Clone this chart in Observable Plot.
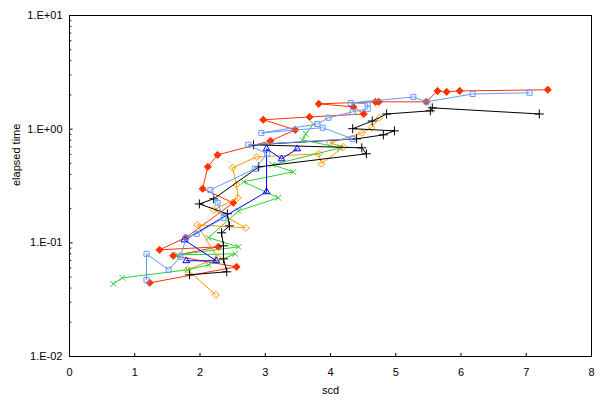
<!DOCTYPE html>
<html>
<head>
<meta charset="utf-8">
<script src="https://cdn.jsdelivr.net/npm/d3@7"></script>
<script src="https://cdn.jsdelivr.net/npm/@observablehq/plot@0.6"></script>
<style>
  html, body { margin: 0; padding: 0; background: #fff; }
  #chart { width: 603px; height: 409px; }
</style>
</head>
<body>
<div id="chart"></div>
<script>
// ---- data ----
const redX = [1.23, 2.56, 1.59, 2.28, 1.38, 1.78, 2.51, 2.04, 2.12, 2.27, 3.08, 3.46, 2.97, 3.68, 4.51, 4.35, 3.82, 4.69, 4.74, 5.47, 5.64, 5.78, 5.98, 7.33];
const redY = [0.0445, 0.0615, 0.0769, 0.0922, 0.0868, 0.111, 0.225, 0.299, 0.466, 0.594, 0.789, 0.986, 1.21, 1.28, 1.36, 1.57, 1.67, 1.74, 1.74, 1.74, 2.17, 2.13, 2.17, 2.22];

const sqX = [1.18, 1.18, 1.52, 1.70, 1.79, 1.95, 2.36, 2.27, 2.16, 2.84, 3.03, 2.74, 4.34, 3.88, 2.94, 3.80, 3.97, 4.34, 4.57, 4.57, 4.31, 5.27, 5.47, 6.18, 7.05];
const sqY = [0.0473, 0.080, 0.0579, 0.0753, 0.111, 0.120, 0.166, 0.225, 0.292, 0.448, 0.607, 0.728, 0.822, 1.03, 0.927, 1.11, 1.26, 1.42, 1.51, 1.67, 1.70, 1.92, 1.74, 2.04, 2.09];

const plusX = [1.84, 2.41, 2.36, 2.36, 2.33, 2.45, 2.42, 1.99, 2.21, 2.90, 4.55, 4.48, 2.82, 4.40, 4.81, 4.98, 4.34, 4.64, 4.86, 5.53, 5.56, 7.20];
const plusY = [0.0523, 0.0556, 0.0723, 0.0941, 0.1225, 0.141, 0.180, 0.220, 0.244, 0.466, 0.607, 0.685, 0.728, 0.822, 0.891, 0.966, 1.01, 1.18, 1.36, 1.45, 1.54, 1.36];

const triX = [1.79, 2.25, 1.76, 3.02, 3.02, 3.25, 3.49];
const triY = [0.0695, 0.0695, 0.106, 0.281, 0.671, 0.548, 0.671];

const timesX = [0.67, 0.81, 1.81, 2.13, 2.54, 1.66, 2.59, 2.13, 2.59, 3.20, 2.67, 3.43, 3.11, 4.15, 3.57, 3.62, 3.74];
const timesY = [0.0436, 0.0492, 0.0579, 0.064, 0.080, 0.0784, 0.0922, 0.111, 0.191, 0.249, 0.344, 0.421, 0.486, 0.685, 0.805, 0.909, 1.11];

const dmdX = [2.24, 1.81, 2.27, 1.96, 2.70, 2.21, 2.58, 2.56, 2.50, 2.87, 3.82, 3.86, 4.20, 3.99, 4.48, 4.63, 4.75];
const dmdY = [0.0349, 0.0579, 0.0738, 0.144, 0.1355, 0.195, 0.249, 0.324, 0.457, 0.570, 0.607, 0.496, 0.699, 0.758, 0.927, 1.03, 1.26];

const xTicks = [0, 1, 2, 3, 4, 5, 6, 7, 8];
const yTicks = [0.01, 0.1, 1, 10];
const yMinor = [0.01, 0.1, 1].flatMap(d => [2, 3, 4, 5, 6, 7, 8, 9].map(m => d * m));

const xLabel = "scd";
const yLabel = "elapsed time";

// ---- helpers ----
const rows = (xs, ys) => xs.map((x, i) => ({x, y: ys[i]}));
const fmtY = d => {
  const e = Math.round(Math.log10(d));
  return "1.E" + (e < 0 ? "-" : "+") + String(Math.abs(e)).padStart(2, "0");
};

function series(xs, ys, color, symbol, r, filled) {
  const data = rows(xs, ys);
  return [
    Plot.line(data, {x: "x", y: "y", stroke: color, strokeWidth: 1}),
    Plot.dot(data, {x: "x", y: "y", symbol, r, stroke: color, strokeWidth: 1, fill: filled ? color : "none"})
  ];
}

const chart = Plot.plot({
  width: 603,
  height: 409,
  marginLeft: 69,
  marginRight: 12,
  marginTop: 15,
  marginBottom: 53,
  style: {fontFamily: "'Liberation Sans', Arial, sans-serif", fontSize: "11px", background: "#fff", color: "#000"},
  x: {domain: [0, 8]},
  y: {type: "log", domain: [0.01, 10]},
  marks: [
    // inward tick marks
    Plot.ruleY(yTicks, {y: d => d, x1: 0, x2: 0.055, stroke: "#000"}),
    Plot.ruleY(yMinor, {y: d => d, x1: 0, x2: 0.035, stroke: "#000"}),
    Plot.ruleX(xTicks, {x: d => d, y1: 0.01, y2: 0.01065, stroke: "#000"}),
    // axis labels (text only)
    Plot.axisY({ticks: yTicks, tickSize: 0, tickPadding: 7, tickFormat: fmtY, label: null}),
    Plot.axisX({ticks: xTicks, tickSize: 0, tickPadding: 12, tickFormat: d => String(d), label: null}),
    Plot.text([xLabel], {frameAnchor: "bottom", dy: 37, text: d => d, fill: "#000"}),
    Plot.text([yLabel], {frameAnchor: "left", dx: -53, rotate: -90, text: d => d, fill: "#000"}),
    // series
    ...series(redX, redY, "#FF3300", "diamond2", 3.2, true),
    ...series(dmdX, dmdY, "#FF9900", "diamond2", 3.1, false),
    ...series(timesX, timesY, "#33CC33", "times", 2.7, false),
    ...series(plusX, plusY, "#000000", "plus", 3.0, false),
    ...series(triX, triY, "#0000FF", "triangle2", 3.2, false),
    ...series(sqX, sqY, "#6699FF", "square2", 3.2, false),
    Plot.frame({stroke: "#000", strokeWidth: 1})
  ]
});
document.getElementById("chart").appendChild(chart);
</script>
</body>
</html>
